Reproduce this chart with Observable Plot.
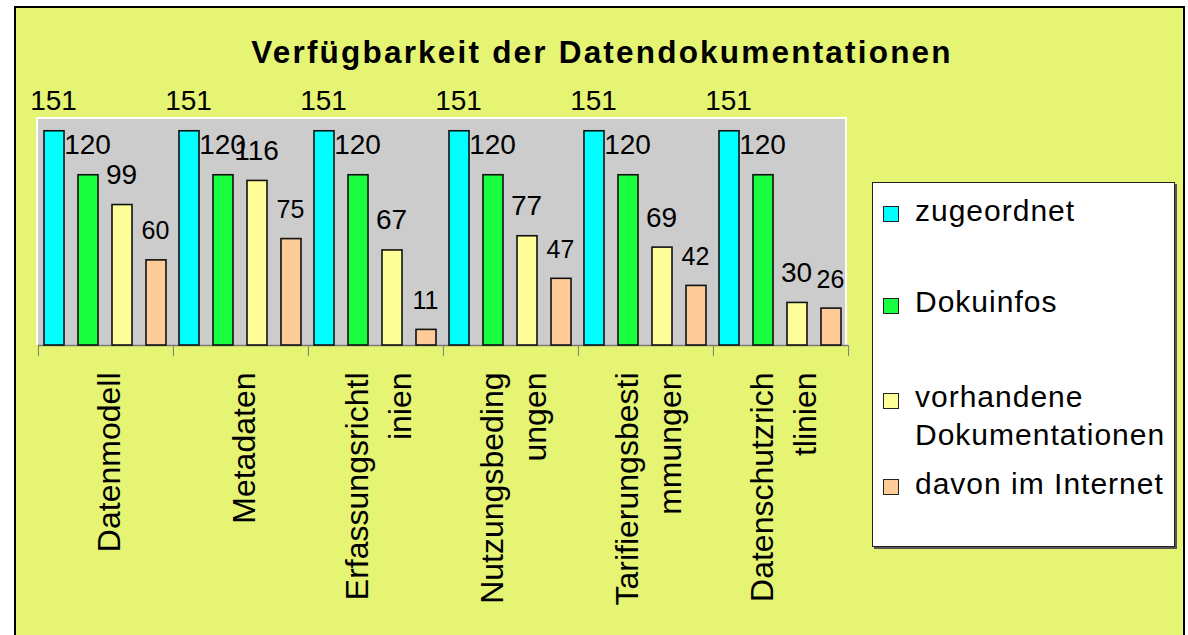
<!DOCTYPE html>
<html>
<head>
<meta charset="utf-8">
<script src="https://cdn.jsdelivr.net/npm/d3@7"></script>
<script src="https://cdn.jsdelivr.net/npm/@observablehq/plot@0.6"></script>
<style>
  html, body { margin: 0; padding: 0; background: #ffffff; overflow: hidden; }
  #page { position: relative; width: 1188px; height: 635px; overflow: hidden; font-family: "Liberation Sans", Arial, sans-serif; }
  #chartbox { position: absolute; left: 14px; top: 6px; width: 1171px; height: 650px; background: #E5F573; border: 2px solid #000; box-sizing: border-box; }
  #plotbg { position: absolute; left: 36px; top: 117px; width: 811px; height: 228px; background: #CCCCCC; border-top: 2px solid #fff; border-left: 2px solid #fff; border-right: 2px solid #fff; box-sizing: border-box; }
  #title { position: absolute; left: 0; top: 36px; width: 1204px; text-align: center; font-weight: bold; font-size: 31.5px; line-height: 32px; letter-spacing: 2.2px; color: #000; }
  #plot { position: absolute; left: 0; top: 0; }
  #legend { position: absolute; left: 872px; top: 182px; width: 303px; height: 365px; background: #fff; border: 1px solid #222; box-shadow: 2px 2px 0 #555; box-sizing: border-box; }
  .item { position: absolute; left: 0; width: 300px; }
  .sw { position: absolute; left: 10px; width: 16px; height: 16px; border: 1.5px solid #222; box-sizing: border-box; }
  .lab { position: absolute; left: 42px; font-size: 30px; line-height: 38px; letter-spacing: 1px; white-space: pre; color: #000; }
</style>
</head>
<body>
<div id="page">
  <div id="chartbox"></div>
  <div id="plotbg"></div>
  <div id="title"></div>
  <div id="plot"></div>
  <div id="legend"></div>
</div>
<script>
// ---- data ----
const titleText = "Verfügbarkeit der Datendokumentationen";
const categories = ["Datenmodell", "Metadaten", "Erfassungsrichtlinien", "Nutzungsbedingungen", "Tarifierungsbestimmungen", "Datenschutzrichtlinien"];
const categoryLabels = ["Datenmodell", "Metadaten", "Erfassungsrichtl\ninien", "Nutzungsbeding\nungen", "Tarifierungsbesti\nmmungen", "Datenschutzrich\ntlinien"];
const series = ["zugeordnet", "Dokuinfos", "vorhandene Dokumentationen", "davon im Internet"];
const legendLabels = ["zugeordnet", "Dokuinfos", "vorhandene\nDokumentationen", "davon im Internet"];
const colors = ["#00FFFF", "#19FF3F", "#FFFF99", "#FFCC99"];
const zugeordnet = [151, 151, 151, 151, 151, 151];
const dokuinfos = [120, 120, 120, 120, 120, 120];
const vorhandene = [99, 116, 67, 77, 69, 30];
const internet = [60, 75, 11, 47, 42, 26];
const seriesValues = [zugeordnet, dokuinfos, vorhandene, internet];

// ---- table ----
const rows = [];
categories.forEach((c, i) => {
  series.forEach((s, j) => rows.push({category: c, series: s, value: seriesValues[j][i]}));
});
const labelOf = new Map(categories.map((c, i) => [c, categoryLabels[i]]));

document.getElementById("title").textContent = titleText;

const W = 1188, H = 635;
const plotLeft = 37, plotRight = 848, plotTop = 118, plotBottom = 345;
const half = (plotRight - plotLeft) / categories.length / 2;

const chart = Plot.plot({
  width: W,
  height: H,
  marginLeft: plotLeft,
  marginRight: W - plotRight,
  marginTop: plotTop,
  marginBottom: H - plotBottom,
  style: {background: "transparent", fontFamily: "'Liberation Sans', Arial, sans-serif", color: "#000", overflow: "visible"},
  fx: {domain: categories, padding: 0, label: null},
  x: {domain: series, paddingInner: 0.4, paddingOuter: 0.13, axis: null},
  y: {domain: [0, 160], axis: null},
  color: {domain: series, range: colors},
  marks: [
    Plot.ruleY([0], {stroke: "#7a7a7a", strokeWidth: 1.5}),
    Plot.barY(rows, {fx: "category", x: "series", y: "value", fill: "series", stroke: "#111", strokeWidth: 1.6}),
    Plot.text(rows, {
      fx: "category", x: "series", y: "value", text: d => String(d.value),
      dy: -21, dx: -1, lineAnchor: "bottom", fill: "#000",
      fontSize: d => d.series === series[3] ? 25 : 28
    }),
    Plot.axisFx({
      anchor: "bottom",
      tickSize: 0, tickPadding: 27, tickRotate: -90, textAnchor: "end", lineAnchor: "middle",
      fontSize: 32, lineHeight: 1.35, tickFormat: d => labelOf.get(d), label: null
    }),
    Plot.axisFx({anchor: "bottom", tickSize: 11, text: null, dx: -half, stroke: "#7a7a7a", label: null}),
    Plot.axisFx({anchor: "bottom", ticks: [categories[categories.length - 1]], tickSize: 11, text: null, dx: half, stroke: "#7a7a7a", label: null})
  ]
});
document.getElementById("plot").appendChild(chart);

// ---- legend ----
const legend = document.getElementById("legend");
const baselines = [38, 129.7, 224.7, 311.3];
series.forEach((s, i) => {
  const item = document.createElement("div");
  item.className = "item";
  const sw = document.createElement("div");
  sw.className = "sw";
  sw.style.background = colors[i];
  sw.style.top = (baselines[i] - 15) + "px";
  const lab = document.createElement("div");
  lab.className = "lab";
  lab.textContent = legendLabels[i];
  lab.style.top = (baselines[i] - 29.4) + "px";
  item.appendChild(sw);
  item.appendChild(lab);
  legend.appendChild(item);
});
</script>
</body>
</html>
